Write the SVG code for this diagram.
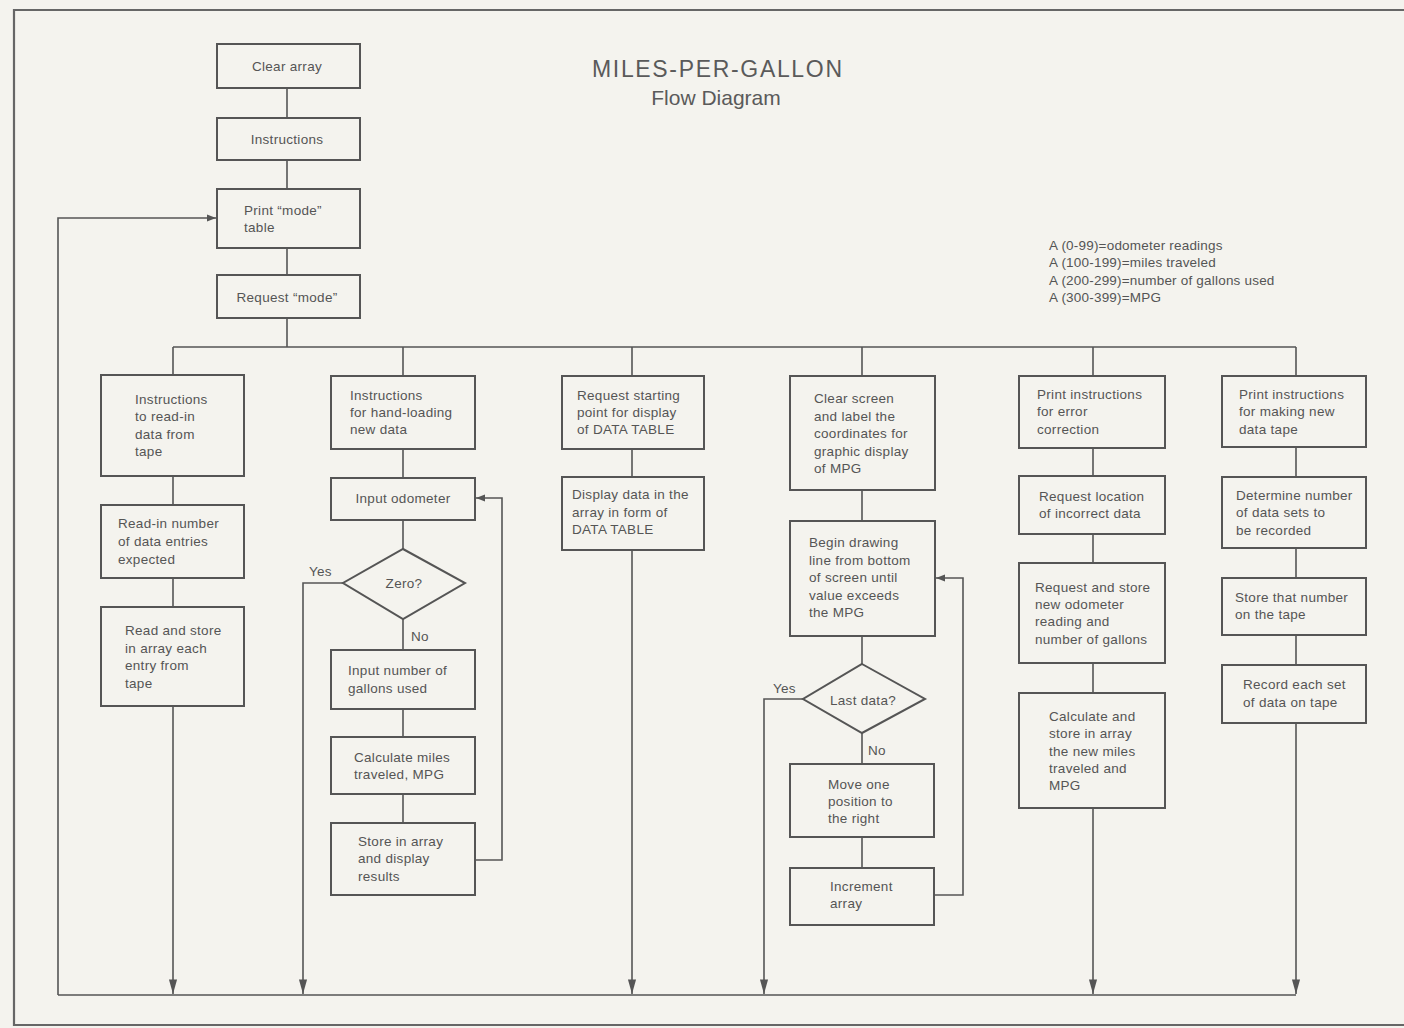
<svg xmlns="http://www.w3.org/2000/svg" width="1404" height="1028" viewBox="0 0 1404 1028">
<defs>
<marker id="ah" viewBox="0 0 10 10" refX="10" refY="5" markerWidth="9" markerHeight="12" markerUnits="userSpaceOnUse" orient="auto">
<path d="M0,1 L10,5 L0,9 z" fill="#555"/>
</marker>
<marker id="ahd" viewBox="0 0 16 10" refX="16" refY="5" markerWidth="15" markerHeight="9" markerUnits="userSpaceOnUse" orient="auto">
<path d="M0,0.5 L16,5 L0,9.5 z" fill="#555"/>
</marker>
<style>
.b{fill:none;stroke:#555;stroke-width:2}
.c{fill:none;stroke:#555;stroke-width:1.6}
.t{font-family:"Liberation Sans",Arial,sans-serif;font-size:13.5px;letter-spacing:0.3px;fill:#555}
.m{text-anchor:middle}
.h{font-family:"Liberation Sans",Arial,sans-serif;fill:#5a5a5a;text-anchor:middle}
.l{font-family:"Liberation Sans",Arial,sans-serif;font-size:13.5px;letter-spacing:0.2px;fill:#555}
</style>
</defs>
<rect x="0" y="0" width="1404" height="1028" fill="#f4f3ee"/>
<path d="M1410,10 H14 V1025 H1410" fill="none" stroke="#666" stroke-width="2.2"/>

<g id="title">
<text class="h" x="717" y="77" font-size="23" textLength="250" lengthAdjust="spacing">MILES-PER-GALLON</text>
<text class="h" x="716" y="105" font-size="21">Flow Diagram</text>
</g>
<g id="legend">
<text class="l" x="1049" y="250">A (0-99)=odometer readings</text>
<text class="l" x="1049" y="267">A (100-199)=miles traveled</text>
<text class="l" x="1049" y="285">A (200-299)=number of gallons used</text>
<text class="l" x="1049" y="302">A (300-399)=MPG</text>
</g>

<g id="connectors">
<path class="c" d="M287,88 V118 M287,160 V189 M287,248 V275 M287,318 V347"/>
<path class="c" d="M173,347 H1296"/>
<path class="c" d="M173,347 V375 M403,347 V376 M632,347 V376 M862,347 V376 M1093,347 V376 M1296,347 V376"/>
<path class="c" d="M58,995 V218 H216" marker-end="url(#ah)"/>
<path class="c" d="M58,995 H1296"/>
<path class="c" d="M173,476 V505 M173,578 V607"/>
<path class="c" d="M173,706 V994" marker-end="url(#ahd)"/>
<path class="c" d="M403,449 V478 M403,520 V549 M403,619 V650 M403,709 V737 M403,794 V823"/>
<path class="c" d="M343,583 H303 V994" marker-end="url(#ahd)"/>
<path class="c" d="M475,860 H502 V498 H476" marker-end="url(#ah)"/>
<path class="c" d="M632,449 V477"/>
<path class="c" d="M632,550 V994" marker-end="url(#ahd)"/>
<path class="c" d="M862,490 V521 M862,636 V664 M862,733 V764 M862,837 V868"/>
<path class="c" d="M803,699 H764 V994" marker-end="url(#ahd)"/>
<path class="c" d="M934,895 H963 V578 H936" marker-end="url(#ah)"/>
<path class="c" d="M1093,448 V476 M1093,534 V563 M1093,663 V693"/>
<path class="c" d="M1093,808 V994" marker-end="url(#ahd)"/>
<path class="c" d="M1296,447 V477 M1296,548 V578 M1296,635 V665"/>
<path class="c" d="M1296,723 V994" marker-end="url(#ahd)"/>
<text class="t" x="309" y="576">Yes</text>
<text class="t" x="411" y="641">No</text>
<text class="t" x="773" y="693">Yes</text>
<text class="t" x="868" y="755">No</text>
</g>

<g id="n-clear"><rect class="b" x="217" y="44" width="143" height="44"/><text class="t m" x="287" y="71">Clear array</text></g>
<g id="n-instr"><rect class="b" x="217" y="118" width="143" height="42"/><text class="t m" x="287" y="144">Instructions</text></g>
<g id="n-printmode"><rect class="b" x="217" y="189" width="143" height="59"/><text class="t" x="244" y="215">Print “mode”</text><text class="t" x="244" y="232">table</text></g>
<g id="n-reqmode"><rect class="b" x="217" y="275" width="143" height="43"/><text class="t m" x="287" y="302">Request “mode”</text></g>

<g id="n-c1a"><rect class="b" x="101" y="375" width="143" height="101"/><text class="t" x="135" y="404">Instructions</text><text class="t" x="135" y="421">to read-in</text><text class="t" x="135" y="439">data from</text><text class="t" x="135" y="456">tape</text></g>
<g id="n-c1b"><rect class="b" x="101" y="505" width="143" height="73"/><text class="t" x="118" y="528">Read-in number</text><text class="t" x="118" y="546">of data entries</text><text class="t" x="118" y="564">expected</text></g>
<g id="n-c1c"><rect class="b" x="101" y="607" width="143" height="99"/><text class="t" x="125" y="635">Read and store</text><text class="t" x="125" y="653">in array each</text><text class="t" x="125" y="670">entry from</text><text class="t" x="125" y="688">tape</text></g>

<g id="n-c2a"><rect class="b" x="331" y="376" width="144" height="73"/><text class="t" x="350" y="400">Instructions</text><text class="t" x="350" y="417">for hand-loading</text><text class="t" x="350" y="434">new data</text></g>
<g id="n-c2b"><rect class="b" x="331" y="478" width="144" height="42"/><text class="t m" x="403" y="503">Input odometer</text></g>
<g id="n-c2d"><polygon class="b" points="403,549 465,583 403,619 343,583"/><text class="t m" x="404" y="588">Zero?</text></g>
<g id="n-c2c"><rect class="b" x="331" y="650" width="144" height="59"/><text class="t" x="348" y="675">Input number of</text><text class="t" x="348" y="693">gallons used</text></g>
<g id="n-c2e"><rect class="b" x="331" y="737" width="144" height="57"/><text class="t" x="354" y="762">Calculate miles</text><text class="t" x="354" y="779">traveled, MPG</text></g>
<g id="n-c2f"><rect class="b" x="331" y="823" width="144" height="72"/><text class="t" x="358" y="846">Store in array</text><text class="t" x="358" y="863">and display</text><text class="t" x="358" y="881">results</text></g>

<g id="n-c3a"><rect class="b" x="562" y="376" width="142" height="73"/><text class="t" x="577" y="400">Request starting</text><text class="t" x="577" y="417">point for display</text><text class="t" x="577" y="434">of DATA TABLE</text></g>
<g id="n-c3b"><rect class="b" x="562" y="477" width="142" height="73"/><text class="t" x="572" y="499">Display data in the</text><text class="t" x="572" y="517">array in form of</text><text class="t" x="572" y="534">DATA TABLE</text></g>

<g id="n-c4a"><rect class="b" x="790" y="376" width="145" height="114"/><text class="t" x="814" y="403">Clear screen</text><text class="t" x="814" y="421">and label the</text><text class="t" x="814" y="438">coordinates for</text><text class="t" x="814" y="456">graphic display</text><text class="t" x="814" y="473">of MPG</text></g>
<g id="n-c4b"><rect class="b" x="790" y="521" width="145" height="115"/><text class="t" x="809" y="547">Begin drawing</text><text class="t" x="809" y="565">line from bottom</text><text class="t" x="809" y="582">of screen until</text><text class="t" x="809" y="600">value exceeds</text><text class="t" x="809" y="617">the MPG</text></g>
<g id="n-c4d"><polygon class="b" points="862,664 925,699 862,733 803,699"/><text class="t m" x="863" y="705">Last data?</text></g>
<g id="n-c4c"><rect class="b" x="790" y="764" width="144" height="73"/><text class="t" x="828" y="789">Move one</text><text class="t" x="828" y="806">position to</text><text class="t" x="828" y="823">the right</text></g>
<g id="n-c4e"><rect class="b" x="790" y="868" width="144" height="57"/><text class="t" x="830" y="891">Increment</text><text class="t" x="830" y="908">array</text></g>

<g id="n-c5a"><rect class="b" x="1019" y="376" width="146" height="72"/><text class="t" x="1037" y="399">Print instructions</text><text class="t" x="1037" y="416">for error</text><text class="t" x="1037" y="434">correction</text></g>
<g id="n-c5b"><rect class="b" x="1019" y="476" width="146" height="58"/><text class="t" x="1039" y="501">Request location</text><text class="t" x="1039" y="518">of incorrect data</text></g>
<g id="n-c5c"><rect class="b" x="1019" y="563" width="146" height="100"/><text class="t" x="1035" y="592">Request and store</text><text class="t" x="1035" y="609">new odometer</text><text class="t" x="1035" y="626">reading and</text><text class="t" x="1035" y="644">number of gallons</text></g>
<g id="n-c5d"><rect class="b" x="1019" y="693" width="146" height="115"/><text class="t" x="1049" y="721">Calculate and</text><text class="t" x="1049" y="738">store in array</text><text class="t" x="1049" y="756">the new miles</text><text class="t" x="1049" y="773">traveled and</text><text class="t" x="1049" y="790">MPG</text></g>

<g id="n-c6a"><rect class="b" x="1222" y="376" width="144" height="71"/><text class="t" x="1239" y="399">Print instructions</text><text class="t" x="1239" y="416">for making new</text><text class="t" x="1239" y="434">data tape</text></g>
<g id="n-c6b"><rect class="b" x="1222" y="477" width="144" height="71"/><text class="t" x="1236" y="500">Determine number</text><text class="t" x="1236" y="517">of data sets to</text><text class="t" x="1236" y="535">be recorded</text></g>
<g id="n-c6c"><rect class="b" x="1222" y="578" width="144" height="57"/><text class="t" x="1235" y="602">Store that number</text><text class="t" x="1235" y="619">on the tape</text></g>
<g id="n-c6d"><rect class="b" x="1222" y="665" width="144" height="58"/><text class="t" x="1243" y="689">Record each set</text><text class="t" x="1243" y="707">of data on tape</text></g>
</svg>
